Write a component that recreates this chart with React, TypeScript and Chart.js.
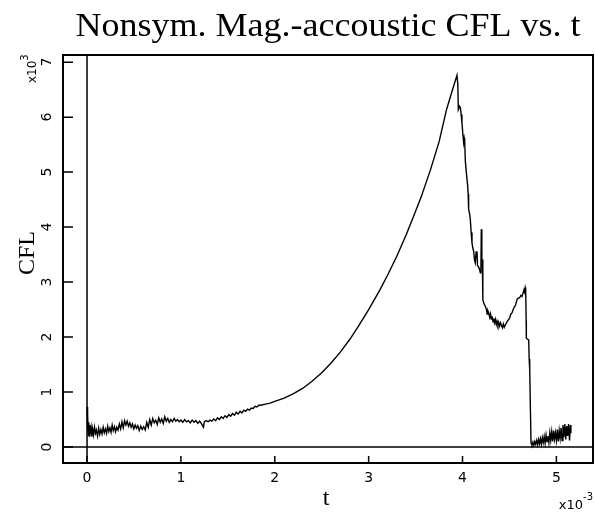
import React, { useEffect, useRef } from "react";
import { Chart, registerables } from "chart.js";

Chart.register(...registerables);

// time in units of 1e-3
const tValues: number[] = [
  0.000, 0.004, 0.008, 0.012, 0.018, 0.024, 0.030, 0.036, 0.044, 0.052,
  0.060, 0.070, 0.080, 0.090, 0.100, 0.112, 0.124, 0.136, 0.148, 0.160,
  0.172, 0.184, 0.196, 0.208, 0.220, 0.232, 0.244, 0.256, 0.268, 0.280,
  0.292, 0.304, 0.316, 0.330, 0.344, 0.358, 0.372, 0.386, 0.400, 0.414,
  0.428, 0.442, 0.456, 0.470, 0.484, 0.498, 0.512, 0.526, 0.540, 0.556,
  0.572, 0.588, 0.604, 0.620, 0.636, 0.652, 0.668, 0.684, 0.700, 0.716,
  0.732, 0.748, 0.764, 0.780, 0.796, 0.812, 0.828, 0.844, 0.860, 0.876,
  0.892, 0.910, 0.928, 0.946, 0.964, 0.982, 1.000, 1.020, 1.040, 1.060,
  1.080, 1.100, 1.120, 1.140, 1.160, 1.180, 1.200, 1.220, 1.240, 1.250,
  1.270, 1.290, 1.310, 1.330, 1.350, 1.370, 1.390, 1.410, 1.430, 1.450,
  1.470, 1.490, 1.510, 1.530, 1.550, 1.570, 1.590, 1.610, 1.630, 1.650,
  1.670, 1.690, 1.710, 1.730, 1.750, 1.770, 1.790, 1.810, 1.830, 1.850,
  1.900, 1.950, 2.000, 2.100, 2.200, 2.300, 2.400, 2.500, 2.600, 2.700,
  2.800, 2.900, 3.000, 3.120, 3.200, 3.300, 3.400, 3.480, 3.560, 3.660,
  3.750, 3.830, 3.890, 3.941, 3.950, 3.955, 3.968, 3.977, 3.985, 3.994,
  4.003, 4.012, 4.018, 4.023, 4.030, 4.041, 4.055, 4.060, 4.065, 4.075,
  4.083, 4.092, 4.101, 4.110, 4.119, 4.128, 4.136, 4.145, 4.154, 4.160,
  4.165, 4.178, 4.190, 4.196, 4.200, 4.206, 4.211, 4.215, 4.218, 4.230,
  4.243, 4.255, 4.262, 4.270, 4.279, 4.290, 4.298, 4.306, 4.314, 4.325,
  4.333, 4.342, 4.350, 4.360, 4.368, 4.377, 4.385, 4.395, 4.405, 4.415,
  4.425, 4.435, 4.445, 4.456, 4.470, 4.482, 4.492, 4.505, 4.515, 4.527,
  4.540, 4.552, 4.563, 4.575, 4.586, 4.598, 4.610, 4.622, 4.634, 4.645,
  4.655, 4.662, 4.668, 4.673, 4.678, 4.680, 4.692, 4.705, 4.710, 4.716,
  4.722, 4.730, 4.740, 4.750, 4.760, 4.770, 4.780, 4.790, 4.800, 4.810,
  4.820, 4.830, 4.840, 4.850, 4.860, 4.870, 4.880, 4.890, 4.900, 4.910,
  4.920, 4.930, 4.940, 4.950, 4.960, 4.970, 4.980, 4.990, 5.000, 5.010,
  5.020, 5.030, 5.040, 5.050, 5.060, 5.070, 5.080, 5.090, 5.100, 5.110,
  5.120, 5.130, 5.140, 5.150, 5.155,
];

// CFL in units of 1e3
const cflValues: number[] = [
  0.73, 0.30, 0.62, 0.22, 0.45, 0.20, 0.40, 0.24, 0.35, 0.19,
  0.33, 0.22, 0.36, 0.25, 0.31, 0.20, 0.34, 0.23, 0.32, 0.24,
  0.36, 0.26, 0.33, 0.25, 0.38, 0.28, 0.35, 0.27, 0.40, 0.30,
  0.37, 0.28, 0.36, 0.31, 0.42, 0.33, 0.46, 0.35, 0.48, 0.40,
  0.47, 0.38, 0.44, 0.36, 0.42, 0.33, 0.40, 0.34, 0.39, 0.30,
  0.38, 0.32, 0.37, 0.31, 0.45, 0.36, 0.50, 0.40, 0.52, 0.44,
  0.49, 0.41, 0.53, 0.45, 0.51, 0.43, 0.55, 0.47, 0.52, 0.45,
  0.50, 0.46, 0.52, 0.47, 0.50, 0.46, 0.49, 0.45, 0.50, 0.46,
  0.48, 0.44, 0.49, 0.45, 0.48, 0.43, 0.47, 0.42, 0.36, 0.46,
  0.48, 0.46, 0.49, 0.47, 0.51, 0.48, 0.53, 0.50, 0.55, 0.52,
  0.57, 0.54, 0.59, 0.56, 0.61, 0.58, 0.63, 0.60, 0.65, 0.62,
  0.67, 0.65, 0.69, 0.67, 0.71, 0.70, 0.74, 0.73, 0.76, 0.76,
  0.78, 0.80, 0.83, 0.89, 0.97, 1.07, 1.20, 1.35, 1.53, 1.73,
  1.96, 2.22, 2.50, 2.86, 3.12, 3.47, 3.86, 4.20, 4.55, 5.05,
  5.55, 6.14, 6.48, 6.76, 6.60, 6.14, 6.20, 6.17, 6.05, 5.90,
  5.70, 5.54, 5.62, 5.57, 5.20, 4.99, 4.75, 4.60, 4.32, 4.25,
  4.14, 3.90, 3.71, 3.62, 3.56, 3.40, 3.35, 3.55, 3.56, 3.30,
  3.29, 3.25, 3.17, 3.20, 3.96, 3.30, 3.41, 3.00, 2.68, 2.60,
  2.56, 2.50, 2.42, 2.48, 2.44, 2.36, 2.42, 2.33, 2.38, 2.28,
  2.34, 2.26, 2.32, 2.23, 2.29, 2.22, 2.27, 2.20, 2.26, 2.21,
  2.17, 2.24, 2.18, 2.22, 2.27, 2.30, 2.32, 2.36, 2.42, 2.44,
  2.50, 2.55, 2.57, 2.65, 2.70, 2.71, 2.72, 2.76, 2.74, 2.80,
  2.86, 2.82, 2.90, 2.86, 2.30, 1.98, 1.96, 1.95, 1.60, 1.40,
  0.80, 0.07, 0.04, 0.09, 0.03, 0.10, 0.05, 0.12, 0.04, 0.14,
  0.06, 0.15, 0.05, 0.17, 0.08, 0.19, 0.07, 0.22, 0.10, 0.20,
  0.08, 0.26, 0.12, 0.28, 0.10, 0.30, 0.14, 0.26, 0.12, 0.32,
  0.10, 0.30, 0.16, 0.35, 0.12, 0.40, 0.18, 0.42, 0.14, 0.38,
  0.20, 0.42, 0.12, 0.40, 0.25,
];

const xTicks: number[] = [0, 1, 2, 3, 4, 5];
const xTickLabels: string[] = ["0", "1", "2", "3", "4", "5"];
const yTicks: number[] = [0, 1, 2, 3, 4, 5, 6, 7];
const yTickLabels: string[] = ["0", "1", "2", "3", "4", "5", "6", "7"];

const titleText = "Nonsym. Mag.-accoustic CFL vs. t";
const xTitleText = "t";
const yTitleText = "CFL";
const xMultiplier = { base: "x10", exp: "-3" };
const yMultiplier = { base: "x10", exp: "3" };

const decorations = {
  id: "decorations",
  afterDraw(chart: any) {
    const { ctx, chartArea: a, scales } = chart;
    const xs = scales.x;
    const ys = scales.y;
    ctx.save();
    ctx.strokeStyle = "#000";
    ctx.fillStyle = "#000";

    // zero lines
    ctx.lineWidth = 1.5;
    const y0 = ys.getPixelForValue(0);
    const x0 = xs.getPixelForValue(0);
    ctx.beginPath();
    ctx.moveTo(a.left, y0);
    ctx.lineTo(a.right, y0);
    ctx.moveTo(x0, a.top);
    ctx.lineTo(x0, a.bottom);
    ctx.stroke();

    // ticks
    ctx.beginPath();
    yTicks.forEach((v) => {
      const py = ys.getPixelForValue(v);
      ctx.moveTo(a.left, py);
      ctx.lineTo(a.left + 10, py);
    });
    xTicks.forEach((v) => {
      const px = xs.getPixelForValue(v);
      ctx.moveTo(px, a.bottom);
      ctx.lineTo(px, a.bottom - 7);
    });
    ctx.stroke();

    // box
    ctx.lineWidth = 2;
    ctx.strokeRect(a.left, a.top, a.right - a.left, a.bottom - a.top);

    // x tick labels
    ctx.font = "14px 'DejaVu Sans'";
    ctx.textAlign = "center";
    ctx.textBaseline = "middle";
    xTicks.forEach((v, i) => {
      ctx.fillText(xTickLabels[i], xs.getPixelForValue(v), 478);
    });

    // y tick labels (rotated)
    yTicks.forEach((v, i) => {
      ctx.save();
      ctx.translate(47, ys.getPixelForValue(v));
      ctx.rotate(-Math.PI / 2);
      ctx.fillText(yTickLabels[i], 0, 0);
      ctx.restore();
    });

    // multipliers
    ctx.textAlign = "left";
    ctx.textBaseline = "alphabetic";
    ctx.font = "13px 'DejaVu Sans'";
    const bw = ctx.measureText(xMultiplier.base).width;
    ctx.font = "10px 'DejaVu Sans'";
    const ew = ctx.measureText(xMultiplier.exp).width;
    const xmStart = 593 - bw - ew;
    ctx.font = "13px 'DejaVu Sans'";
    ctx.fillText(xMultiplier.base, xmStart, 509);
    ctx.font = "10px 'DejaVu Sans'";
    ctx.fillText(xMultiplier.exp, xmStart + bw, 500);

    ctx.save();
    ctx.translate(36, 83);
    ctx.rotate(-Math.PI / 2);
    ctx.font = "12px 'DejaVu Sans'";
    const bw2 = ctx.measureText(yMultiplier.base).width;
    ctx.fillText(yMultiplier.base, 0, 0);
    ctx.font = "10px 'DejaVu Sans'";
    ctx.fillText(yMultiplier.exp, bw2, -8);
    ctx.restore();

    // title
    ctx.font = "33px 'Liberation Serif'";
    ctx.textAlign = "center";
    const tw = ctx.measureText(titleText).width;
    ctx.save();
    const cx = (a.left + a.right) / 2;
    ctx.translate(cx, 36);
    ctx.scale(505 / tw, 1);
    ctx.fillText(titleText, 0, 0);
    ctx.restore();

    // x title
    ctx.font = "24px 'Liberation Serif'";
    ctx.fillText(xTitleText, 326, 505);

    // y title
    ctx.save();
    ctx.translate(34, 253);
    ctx.rotate(-Math.PI / 2);
    ctx.font = "24px 'Liberation Serif'";
    ctx.fillText(yTitleText, 0, 0);
    ctx.restore();

    ctx.restore();
  },
};

export default function App() {
  const ref = useRef<HTMLCanvasElement | null>(null);
  useEffect(() => {
    if (!ref.current) return;
    const chart = new Chart(ref.current, {
      type: "line",
      data: {
        datasets: [
          {
            data: tValues.map((t, i) => ({ x: t, y: cflValues[i] })),
            borderColor: "#000",
            borderWidth: 1.4,
            pointRadius: 0,
            tension: 0,
            fill: false,
          },
        ],
      },
      options: {
        responsive: false,
        animation: false,
        devicePixelRatio: 1,
        layout: { padding: { left: 63, top: 55, right: 2, bottom: 49 } },
        scales: {
          x: { type: "linear", min: -0.256, max: 5.39, display: false },
          y: { type: "linear", min: -0.29, max: 7.13, display: false },
        },
        plugins: {
          legend: { display: false },
          title: { display: false },
          tooltip: { enabled: false },
        },
      },
      plugins: [decorations],
    });
    return () => chart.destroy();
  }, []);
  return (
    <div style={{ position: "absolute", left: 0, top: 0, width: 595, height: 512, background: "#fff" }}>
      <canvas ref={ref} width={595} height={512} />
    </div>
  );
}
